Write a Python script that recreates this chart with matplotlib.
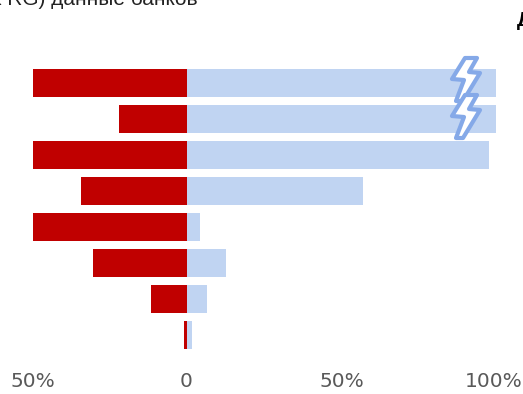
import matplotlib
matplotlib.use('Agg')
import matplotlib.pyplot as plt
from matplotlib.patches import Polygon
from matplotlib.transforms import ScaledTranslation

# Dados
posicoes = [0, 1, 2, 3, 4, 5, 6, 7]
valores_azul = [100, 100, 97.8, 57, 4.3, 12.5, 6.5, 1.5]
valores_vermelho = [50, 22, 50, 34.3, 50, 30.5, 11.5, 1]
ticks_x = [-50, 0, 50, 100]
rotulos_x = ['50%', '0', '50%', '100%']

W, H = 523, 394
fig = plt.figure(figsize=(W / 100, H / 100), dpi=100)

# Area do grafico em pixels: x de 32.5 a 496, y de 47 a 362
X0, X1, Y0, Y1 = 32.5, 496, 47, 362
ax = fig.add_axes([X0 / W, 1 - Y1 / H, (X1 - X0) / W, (Y1 - Y0) / H])
ax.barh(posicoes, valores_azul, height=0.78, color='#C0D4F2')
ax.barh(posicoes, [-v for v in valores_vermelho], height=0.78, color='#C00000')
ax.set_xlim(-50, 100)
ax.set_ylim(7.75, -1)
ax.set_yticks([])
ax.set_xticks(ticks_x)
ax.set_xticklabels(rotulos_x, fontsize=14.5, color='#595959', family='DejaVu Sans')
ax.tick_params(axis='x', length=0, pad=7)
for s in ax.spines.values():
    s.set_visible(False)

# Pequeno ajuste horizontal dos rotulos de 0 e 100%
for rotulo, desloc in zip(ax.get_xticklabels(), [0, -1, 0, -2.5]):
    rotulo.set_transform(rotulo.get_transform() + ScaledTranslation(desloc / 100, 0, fig.dpi_scale_trans))

# Raios sobre as barras cortadas (em pixels da imagem)
raio = [(465, 58), (477, 58), (469, 72), (480, 73), (463, 101), (456, 101), (464, 80), (452, 79)]
for dy in [0, 37]:
    pts = [((x - X0) / (X1 - X0), 1 - (y + dy - Y0) / (Y1 - Y0)) for x, y in raio]
    ax.add_patch(Polygon(pts, closed=True, transform=ax.transAxes, facecolor='white',
                         edgecolor='#85A9E8', linewidth=3, joinstyle='round', zorder=5))

# Textos cortados pela borda da imagem
fig.text(-9 / W, 1 - 5 / H, 'k RG) данные банков', fontsize=15, color='#222222',
         family='Liberation Sans', ha='left', va='baseline')
fig.text(516.5 / W, 1 - 26.5 / H, 'Д', fontsize=15, fontweight='bold', color='black',
         family='Liberation Sans', ha='left', va='baseline')

fig.savefig('out.png', dpi=100)
